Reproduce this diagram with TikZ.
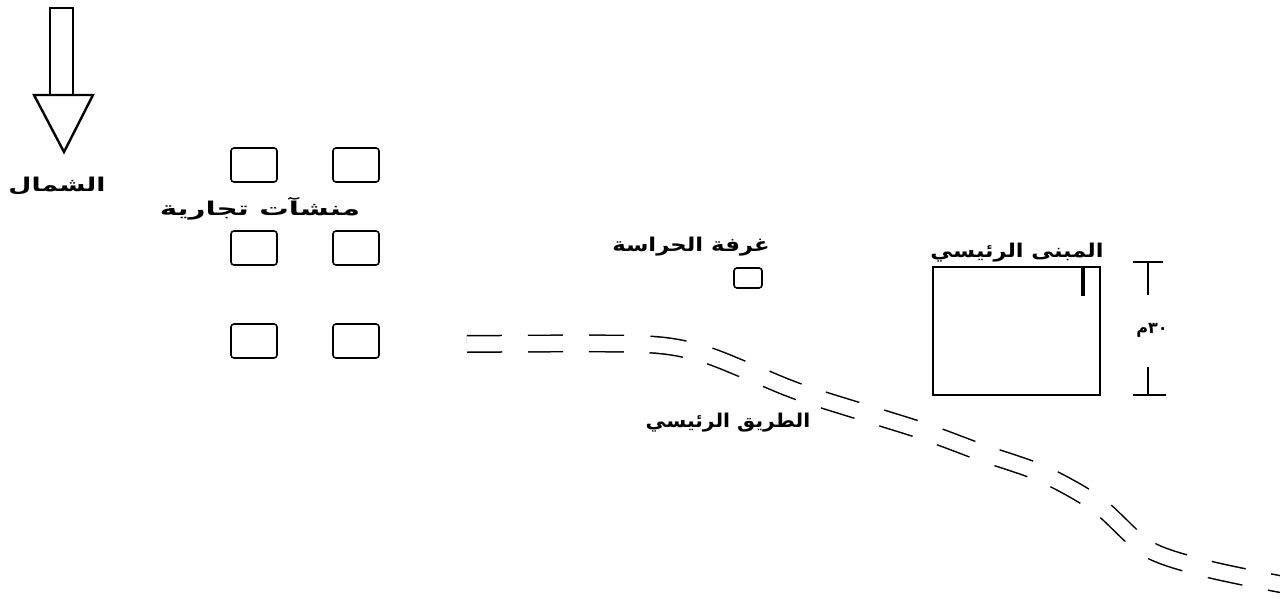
\documentclass[tikz,border=0pt]{standalone}
\usepackage{fontspec}
\usepackage{graphicx}
\newfontfamily\arabicfont[Script=Arabic]{DejaVu Sans}
\TeXXeTstate=1
\tikzset{
  lbl/.style={font=\arabicfont\bfseries\fontsize{19}{21}\selectfont, inner sep=0pt},
  smalllbl/.style={font=\arabicfont\bfseries\fontsize{16}{18}\selectfont, inner sep=0pt},
  plot/.style={draw, line width=1.6pt, rounded corners=3pt, minimum width=46pt, minimum height=34pt, inner sep=0pt},
  booth/.style={draw, line width=1.6pt, rounded corners=3pt, minimum width=28pt, minimum height=20pt, inner sep=0pt},
  bldg/.style={draw, line width=1.8pt, minimum width=167pt, minimum height=128pt, inner sep=0pt},
  outline/.style={line width=2.4pt, line join=miter},
  roadedge/.style={line width=18pt, dash pattern=on 35pt off 26pt},
  roadfill/.style={white, line width=15pt},
  dimline/.style={line width=2pt}
}
\begin{document}
\begin{tikzpicture}[x=1pt,y=-1pt]
\useasboundingbox[fill=white] (0,0) rectangle (1280,599);

% north arrow
\draw[outline] (50,8) rectangle (73,95);
\draw[outline] (34,95) -- (93,95) -- (64,152) -- cycle;
\node[lbl] (north) at (57,186) {\scalebox{1.4}[1]{\beginR الشمال\endR}};

% plots
\node[plot] (p11) at (254,165) {};
\node[plot] (p12) at (356,165) {};
\node[plot] (p21) at (254,248) {};
\node[plot] (p22) at (356,248) {};
\node[plot] (p31) at (254,341) {};
\node[plot] (p32) at (356,341) {};
\node[lbl] (plotlbl) at (260,209) {\scalebox{1.55}[1]{\beginR منشآت تجارية\endR}};

% guard booth
\node[lbl] (guardlbl) at (691,247) {\scalebox{1.2}[1]{\beginR غرفة الحراسة\endR}};
\node[booth] (booth) at (748,278) {};

% road (two parallel dashed edges)
\def\roadpath{plot[smooth, tension=0.5] coordinates {(467,344) (640,344) (700,353) (750,372) (805,394) (920,430) (980,452) (1043,474) (1098,505) (1148,549) (1208,569) (1285,585)}}
\draw[roadedge] \roadpath;
\draw[roadfill] \roadpath;
\node[lbl] (roadlbl) at (728,423) {\scalebox{1.07}[1]{\beginR الطريق الرئيسي\endR}};

% building
\node[bldg] (bldg) at (1016.5,331) {};
\node[lbl, anchor=south] (bldglbl) at (1017,262) {\scalebox{1.18}[1]{\beginR المبنى الرئيسي\endR}};
\coordinate (bartop) at ([xshift=-18pt]bldg.north east);
\draw[line width=4pt] (bartop) -- ++(0,30);

% dimension
\node[smalllbl] (dimlbl) at (1152,330) {\beginR ٣٠م\endR};
\coordinate (dtop) at (1148,262);
\coordinate (dbot) at (1148,395);
\draw[dimline] ([xshift=-15pt]dtop) -- ([xshift=15pt]dtop);
\draw[dimline] (dtop) -- ++(0,33);
\draw[dimline] ([xshift=-15pt]dbot) -- ([xshift=18pt]dbot);
\draw[dimline] (dbot) -- ++(0,-28);
\end{tikzpicture}
\end{document}
